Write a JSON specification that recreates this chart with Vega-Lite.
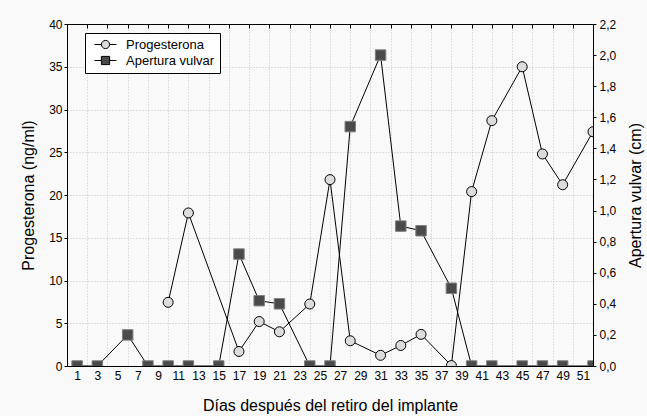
{
  "$schema": "https://vega.github.io/schema/vega-lite/v6.json",
  "width": 526,
  "height": 342,
  "autosize": "none",
  "padding": {"left": 67, "top": 24, "right": 54, "bottom": 50},
  "background": "#f9f9f9",
  "datasets": {
    "prog": [
      {"day": 10, "value": 7.45}, {"day": 12, "value": 17.9}, {"day": 17, "value": 1.7},
      {"day": 19, "value": 5.2}, {"day": 21, "value": 4.0}, {"day": 24, "value": 7.25},
      {"day": 26, "value": 21.8}, {"day": 28, "value": 2.95}, {"day": 31, "value": 1.25},
      {"day": 33, "value": 2.4}, {"day": 35, "value": 3.7}, {"day": 38, "value": 0.05},
      {"day": 40, "value": 20.4}, {"day": 42, "value": 28.7}, {"day": 45, "value": 35.0},
      {"day": 47, "value": 24.8}, {"day": 49, "value": 21.2}, {"day": 52, "value": 27.4}
    ],
    "aper": [
      {"day": 1, "value": 0}, {"day": 3, "value": 0}, {"day": 6, "value": 0.2},
      {"day": 8, "value": 0}, {"day": 10, "value": 0}, {"day": 12, "value": 0},
      {"day": 15, "value": 0}, {"day": 17, "value": 0.72}, {"day": 19, "value": 0.42},
      {"day": 21, "value": 0.4}, {"day": 24, "value": 0}, {"day": 26, "value": 0},
      {"day": 28, "value": 1.54}, {"day": 31, "value": 2.0}, {"day": 33, "value": 0.9},
      {"day": 35, "value": 0.87}, {"day": 38, "value": 0.5}, {"day": 40, "value": 0},
      {"day": 42, "value": 0}, {"day": 45, "value": 0}, {"day": 47, "value": 0},
      {"day": 49, "value": 0}, {"day": 52, "value": 0}
    ],
    "leg": [{"serie": "Progesterona"}, {"serie": "Apertura vulvar"}]
  },
  "layer": [
    {
      "data": {"name": "prog"},
      "encoding": {
        "x": {
          "field": "day", "type": "quantitative",
          "scale": {"domain": [0, 52], "nice": false, "zero": false},
          "axis": {
            "orient": "bottom",
            "title": "Días después del retiro del implante",
            "values": [1,3,5,7,9,11,13,15,17,19,21,23,25,27,29,31,33,35,37,39,41,43,45,47,49,51],
            "grid": false, "ticks": false, "labelPadding": 4, "titlePadding": 16
          }
        },
        "y": {
          "field": "value", "type": "quantitative",
          "scale": {"domain": [0, 40], "nice": false},
          "axis": {
            "orient": "left",
            "title": "Progesterona (ng/ml)",
            "values": [0,5,10,15,20,25,30,35,40],
            "grid": true, "tickSize": 3, "labelPadding": 2, "titlePadding": 12
          }
        }
      },
      "layer": [
        {"mark": {"type": "line", "color": "black", "strokeWidth": 1, "clip": true}},
        {"mark": {"type": "point", "shape": "circle", "filled": true, "fill": "#dcdcdc", "stroke": "black", "strokeWidth": 1, "size": 100, "opacity": 1, "clip": true}}
      ]
    },
    {
      "data": {"name": "aper"},
      "encoding": {
        "x": {
          "field": "day", "type": "quantitative",
          "scale": {"domain": [0, 52], "nice": false, "zero": false},
          "axis": {
            "orient": "top", "title": null, "labels": false,
            "values": [2,4,6,8,10,12,14,16,18,20,22,24,26,28,30,32,34,36,38,40,42,44,46,48,50,52],
            "grid": true, "tickSize": -4
          }
        },
        "y": {
          "field": "value", "type": "quantitative",
          "scale": {"domain": [0, 2.2], "nice": false},
          "axis": {
            "orient": "right",
            "title": "Apertura vulvar (cm)",
            "titleAngle": 270, "titleBaseline": "top",
            "values": [0,0.2,0.4,0.6,0.8,1.0,1.2,1.4,1.6,1.8,2.0,2.2],
            "labelExpr": "replace(format(datum.value, '.1f'), '.', ',')",
            "grid": false, "tickSize": 3, "labelPadding": 3, "titlePadding": 12
          }
        }
      },
      "layer": [
        {"mark": {"type": "line", "color": "black", "strokeWidth": 1, "clip": true}},
        {"mark": {"type": "point", "shape": "square", "filled": true, "fill": "#4a4a4a", "stroke": "#808080", "strokeWidth": 1, "size": 110, "opacity": 1, "clip": true}}
      ]
    },
    {
      "data": {"name": "leg"},
      "transform": [{"filter": "false"}],
      "mark": {"type": "point", "filled": true, "stroke": "black", "strokeWidth": 1, "size": 120, "opacity": 1},
      "encoding": {
        "fill": {
          "field": "serie", "type": "nominal",
          "scale": {"domain": ["Progesterona", "Apertura vulvar"], "range": ["#dcdcdc", "#4a4a4a"]},
          "legend": {
            "title": null, "orient": "none", "legendX": 18, "legendY": 9,
            "strokeColor": "black", "fillColor": "white", "padding": 5,
            "labelFont": "Liberation Sans", "labelFontSize": 13, "labelColor": "black",
            "symbolOffset": 9, "labelOffset": 14, "rowPadding": 2,
            "symbolSize": 120, "symbolStrokeColor": "black", "symbolStrokeWidth": 1
          }
        },
        "shape": {
          "field": "serie", "type": "nominal",
          "scale": {
            "domain": ["Progesterona", "Apertura vulvar"],
            "range": [
              "M-2,0H-0.75M0.75,0H2M0.75,0A0.75,0.75,0,1,1,-0.75,0A0.75,0.75,0,1,1,0.75,0Z",
              "M-2,0H-0.75M0.75,0H2M-0.75,-0.75H0.75V0.75H-0.75Z"
            ]
          }
        }
      }
    }
  ],
  "resolve": {"scale": {"y": "independent"}, "axis": {"x": "independent"}},
  "config": {
    "view": {"stroke": "black", "strokeWidth": 1, "fill": "white"},
    "axis": {
      "labelFont": "Liberation Sans", "titleFont": "Liberation Sans",
      "labelFontSize": 12, "titleFontSize": 16, "titleFontWeight": "normal",
      "labelColor": "black", "titleColor": "black",
      "domainColor": "black", "tickColor": "black",
      "gridColor": "#c4c4c4", "gridDash": [1, 2], "gridWidth": 1
    }
  }
}
